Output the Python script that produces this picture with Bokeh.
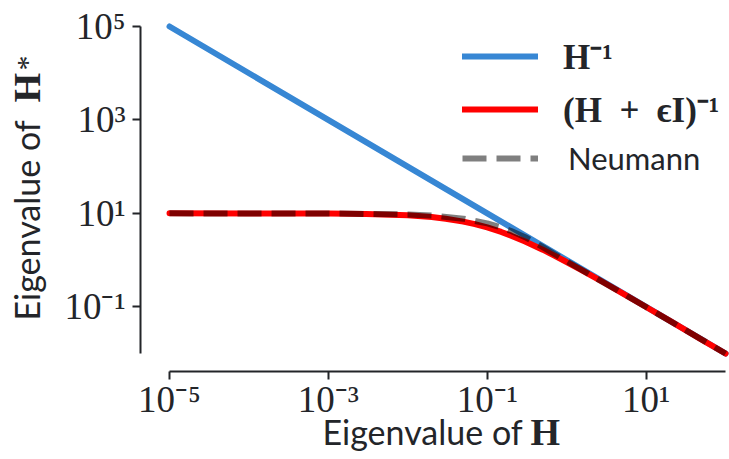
import numpy as np
from bokeh.plotting import figure
from bokeh.models import (Range1d, FixedTicker, CustomJSTickFormatter, Label,
                          Legend, LegendItem)
from bokeh.embed import file_html
from bokeh.resources import INLINE

# Eigenvalues of H (x) against the eigenvalues of each inverse (y)
x_inverse = [1e-5, 1e2]
y_inverse = [1e5, 1e-2]

x_damped = [1e-5, 1e-4, 1e-3, 3e-3, 1e-2, 2e-2, 3e-2, 5e-2, 7e-2, 0.1, 0.15,
            0.2, 0.3, 0.5, 0.7, 1.0, 1.5, 2.0, 3.0, 5.0, 10.0, 20.0, 50.0, 100.0]
y_damped = [9.999, 9.99, 9.90, 9.71, 9.09, 8.33, 7.69, 6.67, 5.88, 5.0, 4.0,
            3.33, 2.5, 1.67, 1.25, 0.909, 0.625, 0.476, 0.323, 0.196, 0.099,
            0.0498, 0.0199, 0.00999]

x_neumann = [1e-5, 1e-4, 1e-3, 1e-2, 2e-2, 5e-2, 0.1, 0.15, 0.2, 0.3, 0.5,
             0.7, 1.0, 2.0, 5.0, 10.0, 100.0]
y_neumann = [10.0, 9.99, 9.95, 9.5, 9.0, 7.7, 6.1, 5.0, 4.2, 3.1, 1.9,
             1.35, 0.95, 0.48, 0.196, 0.099, 0.00999]

x_ticks = [1e-5, 1e-3, 1e-1, 1e1]
y_ticks = [1e-1, 1e1, 1e3, 1e5]

legend_labels = ["H\u207b\u00b9",
                 "(H\u2002+\u2002\u03f5I)\u207b\u00b9",
                 "Neumann"]

INK = "#232529"
BLUE = "#3787d4"
RED = "#ff0000"

W, H = 729, 459

# the frame spans the whole canvas; the offset spines sit at fixed data positions
p = figure(width=W, height=H, x_axis_type="log", y_axis_type="log",
           x_range=Range1d(10 ** -7.128, 10 ** 2.05),
           y_range=Range1d(10 ** -4.269, 10 ** 5.557),
           output_backend="svg", toolbar_location=None,
           min_border_left=0, min_border_right=0,
           min_border_top=0, min_border_bottom=0)
p.outline_line_color = None
p.grid.visible = False
p.background_fill_color = "white"
p.border_fill_color = "white"

sup_formatter = CustomJSTickFormatter(code="""
const e = Math.round(Math.log10(tick));
const sup = {'-': '\u207b', '0': '\u2070', '1': '\u00b9', '2': '\u00b2', '3': '\u00b3',
             '4': '\u2074', '5': '\u2075', '6': '\u2076', '7': '\u2077', '8': '\u2078', '9': '\u2079'};
return '10' + String(e).split('').map(c => sup[c]).join('');
""")

p.xaxis.fixed_location = 10 ** -2.385
p.yaxis.fixed_location = 10 ** -5.365

for ax, ticks, bounds, standoff in ((p.xaxis[0], x_ticks, (1e-5, 1e2), 0),
                                    (p.yaxis[0], y_ticks, (1e-2, 1e5), 7)):
    ax.ticker = FixedTicker(ticks=ticks, minor_ticks=[])
    ax.formatter = sup_formatter
    ax.bounds = bounds
    ax.axis_line_color = INK
    ax.axis_line_width = 2
    ax.major_tick_line_color = INK
    ax.major_tick_line_width = 2
    ax.major_tick_out = 8
    ax.major_tick_in = 0
    ax.minor_tick_line_color = None
    ax.major_label_text_font = "Liberation Serif"
    ax.major_label_text_font_size = "37px"
    ax.major_label_text_color = INK
    ax.major_label_standoff = standoff

r_inv = p.line(x_inverse, y_inverse, line_color=BLUE, line_width=6, line_cap="round")
r_damp = p.line(x_damped, y_damped, line_color=RED, line_width=6, line_cap="round")
r_neu = p.line(x_neumann, y_neumann, line_color="black", line_alpha=0.5,
               line_width=6, line_dash="24 10")

legend_specs = [
    (legend_labels[0], r_inv, (462, 380), "Liberation Serif", "bold", "35px", 25),
    (legend_labels[1], r_damp, (462, 327), "Liberation Serif", "bold", "35px", 25),
    (legend_labels[2], r_neu, (462, 282), "Lato", "normal", "31px", 30),
]
for text, rend, loc, font, style, size, standoff in legend_specs:
    lg = Legend(items=[LegendItem(label=text, renderers=[rend])], location=loc,
                padding=0, margin=0, spacing=0, border_line_color=None,
                background_fill_alpha=0, glyph_width=76, glyph_height=30,
                label_height=30, label_standoff=standoff,
                label_text_font=font, label_text_font_style=style,
                label_text_font_size=size, label_text_color=INK)
    p.add_layout(lg, "center")


# axis titles: sans text with a bold serif matrix symbol
def add_label(text, x, y, font, size, style="normal", angle=0.0):
    p.add_layout(Label(x=x, y=y, x_units="screen", y_units="screen", text=text,
                       text_font=font, text_font_size=size, text_font_style=style,
                       text_color=INK, text_align="left", text_baseline="alphabetic",
                       angle=angle))


add_label("Eigenvalue of", 322, 28, "Lato", "34px")
add_label("H", 530, 28, "Liberation Serif", "38px", "bold")

add_label("Eigenvalue of", 26, 139, "Lato", "34px", angle=np.pi / 2)
add_label("H", 26, 357, "Liberation Serif", "38px", "bold", angle=np.pi / 2)
add_label("*", 26, 389, "Liberation Serif", "30px", angle=np.pi / 2)

open("out.html", "w").write(file_html(p, INLINE))
